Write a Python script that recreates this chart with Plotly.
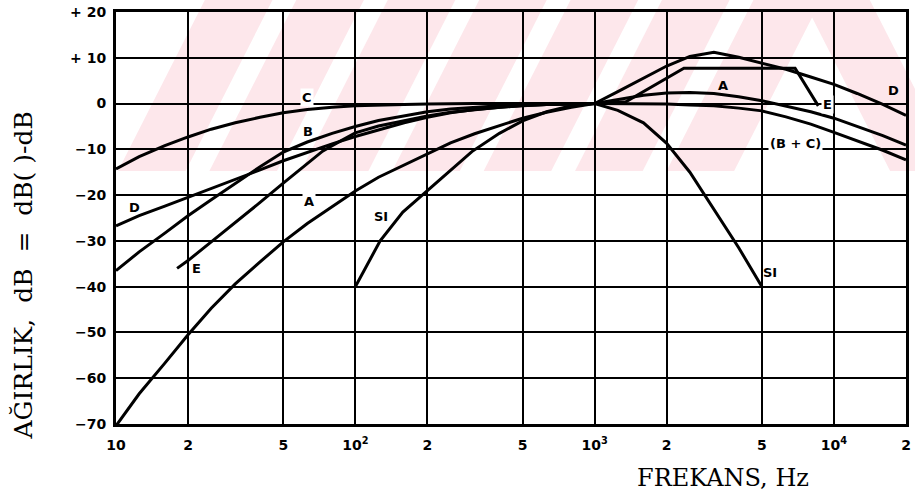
import math
import plotly.graph_objects as go

# ---------------- data ----------------
freq_A = [10, 12.5, 16, 20, 25, 31.5, 40, 50, 63, 80, 100, 125, 160, 200, 250, 315, 400, 500, 630, 800,
          1000, 1250, 1600, 2000, 2500, 3150, 4000, 5000, 6300, 8000, 10000, 12500, 16000, 20000]
weight_A = [-70.4, -63.4, -56.7, -50.5, -44.7, -39.4, -34.6, -30.2, -26.2, -22.5, -19.1, -16.1, -13.4, -10.9,
            -8.6, -6.6, -4.8, -3.2, -1.9, -0.8, 0, 0.8, 1.8, 2.3, 2.4, 2.2, 1.5, 0.6, -0.5, -1.8, -3.2, -5.0,
            -7.0, -9.1]

freq_B = [10, 12.5, 16, 20, 25, 31.5, 40, 50, 63, 80, 100, 125, 160, 200, 250, 315, 400, 500, 630, 800, 1000]
weight_B = [-36.5, -32.4, -28.3, -24.5, -21.0, -17.4, -13.8, -10.6, -8.4, -6.5, -5.0, -3.7, -2.7, -1.8, -1.2,
            -0.8, -0.5, -0.3, -0.2, -0.1, 0]

freq_C = [10, 12.5, 16, 20, 25, 31.5, 40, 50, 63, 80, 100, 125, 160, 200, 250, 315, 400, 500, 630, 800, 1000]
weight_C = [-14.3, -11.6, -9.2, -7.3, -5.6, -4.2, -3.0, -2.0, -1.3, -0.8, -0.5, -0.3, -0.2, -0.1, 0, 0, 0, 0,
            0, 0, 0]

freq_BC = [1000, 1250, 1600, 2000, 2500, 3150, 4000, 5000, 6300, 8000, 10000, 12500, 16000, 20000]
weight_BC = [0, 0, -0.1, -0.1, -0.3, -0.5, -1.0, -1.6, -2.9, -4.5, -6.3, -8.2, -10.2, -12.3]

freq_D = [10, 12.5, 16, 20, 25, 31.5, 40, 50, 63, 80, 100, 125, 160, 200, 250, 315, 400, 500, 630, 800,
          1000, 1250, 1600, 2000, 2500, 3150, 4000, 5000, 6300, 8000, 10000, 12500, 16000, 20000]
weight_D = [-26.7, -24.5, -22.4, -20.5, -18.6, -16.6, -14.5, -12.5, -10.6, -8.8, -7.2, -5.7, -4.2, -3.0, -2.0,
            -1.3, -0.8, -0.4, -0.2, -0.1, 0, 2.6, 5.6, 8.2, 10.3, 11.2, 10.1, 8.9, 7.5, 5.8, 4.2, 2.2, -0.2, -2.6]

freq_E = [18, 20, 25, 31.5, 40, 50, 63, 73, 80, 100, 125, 160, 200, 250, 315, 400, 500, 630, 800, 1000,
          1350, 2360, 6880, 8600]
weight_E = [-36.0, -34.3, -30.2, -26.0, -21.6, -17.4, -13.2, -10.4, -9.2, -6.4, -4.9, -3.7, -2.7, -1.9, -1.3,
            -0.8, -0.5, -0.2, -0.1, 0, 0.4, 7.7, 7.7, -0.5]

freq_SI = [100, 127, 158, 200, 250, 307, 400, 500, 630, 800, 1000, 1250, 1600, 2000, 2500, 3150, 4000, 5000]
weight_SI = [-40, -30, -23.7, -19, -14.5, -10.5, -6.5, -3.8, -1.8, -0.5, 0, -1.5, -4.2, -8.7, -15, -23,
             -31.5, -40]

x_tickvals = [10, 20, 50, 100, 200, 500, 1000, 2000, 5000, 10000, 20000]
x_ticktext = ["10", "2", "5", "10<sup>2</sup>", "2", "5", "10<sup>3</sup>", "2", "5", "10<sup>4</sup>", "2"]
y_tickvals = [20, 10, 0, -10, -20, -30, -40, -50, -60, -70]
y_ticktext = ["+ 20", "+ 10", "0", "\u221210", "\u221220", "\u221230", "\u221240", "\u221250", "\u221260",
              "\u221270"]

# curve labels: (text, frequency, dB, white background)
labels = [
    ("C", 62.7, 1.3, True),
    ("B", 63.4, -6.0, False),
    ("D", 12.0, -22.8, False),
    ("E", 21.7, -36.1, False),
    ("A", 63.9, -21.5, True),
    ("SI", 128.5, -24.6, False),
    ("SI", 5420, -36.8, False),
    ("A", 3436, 4.0, False),
    ("E", 9377, -0.3, True),
    ("D", 17740, 2.9, False),
    ("(B + C)", 6918, -8.8, True),
]

# ---------------- figure ----------------
W, H = 915, 495
ML, MR, MT, MB = 116, 4, 12, 71
PW, PH = W - ML - MR, H - MT - MB


def px2paper(px, py):
    return (px - ML) / PW, (H - MB - py) / PH


fig = go.Figure()
series = [(freq_C, weight_C), (freq_B, weight_B), (freq_D, weight_D), (freq_E, weight_E),
          (freq_A, weight_A), (freq_SI, weight_SI), (freq_BC, weight_BC)]
for fx, wy in series:
    fig.add_trace(go.Scatter(x=fx, y=wy, mode="lines", line=dict(color="black", width=3),
                             hoverinfo="skip", showlegend=False))

# faint pink watermark stripes (background decoration)
pink = "#fde7eb"
shapes = []
y_bot, y_top = 171, -5
shift = 90
for x0 in range(118, 760, 92):
    pts = [(x0, y_bot), (x0 + 68, y_bot), (x0 + 68 + shift, y_top), (x0 + shift, y_top)]
    pp = [px2paper(a, b) for a, b in pts]
    path = "M " + " L ".join(f"{a:.4f},{b:.4f}" for a, b in pp) + " Z"
    shapes.append(dict(type="path", path=path, xref="paper", yref="paper", fillcolor=pink,
                       line=dict(width=0), layer="below"))
# backslash band at the right
pts = [(805, y_top), (872, y_top), (962, y_bot), (895, y_bot)]
pp = [px2paper(a, b) for a, b in pts]
shapes.append(dict(type="path", path="M " + " L ".join(f"{a:.4f},{b:.4f}" for a, b in pp) + " Z",
                   xref="paper", yref="paper", fillcolor=pink, line=dict(width=0), layer="below"))

annotations = []
for text, f, db, bg in labels:
    annotations.append(dict(x=math.log10(f), y=db, xref="x", yref="y", text=text,
                            xanchor="center", yanchor="middle", showarrow=False,
                            font=dict(family="DejaVu Sans", size=13, color="black", weight="bold"),
                            bgcolor="white" if bg else "rgba(0,0,0,0)", borderpad=1))

ax, ay = px2paper(22, 276)
annotations.append(dict(x=ax, y=ay, xref="paper", yref="paper", text="AĞIRLIK,  dB  =  dB( )-dB",
                        textangle=-90, showarrow=False, xanchor="center", yanchor="middle",
                        font=dict(family="DejaVu Serif", size=25, color="black")))
bx, by = px2paper(727, 478)
annotations.append(dict(x=bx, y=by, xref="paper", yref="paper", text="FREKANS, Hz", showarrow=False,
                        xanchor="center", yanchor="middle",
                        font=dict(family="DejaVu Serif", size=24, color="black")))

fig.update_layout(
    width=W, height=H,
    margin=dict(l=ML, r=MR, t=MT, b=MB),
    paper_bgcolor="white", plot_bgcolor="rgba(0,0,0,0)",
    shapes=shapes, annotations=annotations,
    xaxis=dict(type="log", range=[1, 4.30103], tickvals=x_tickvals, ticktext=x_ticktext,
               showgrid=True, gridcolor="black", gridwidth=1.6, showline=True, linecolor="black",
               linewidth=3, mirror=True, ticks="", ticklabelstandoff=6, zeroline=False,
               tickfont=dict(family="DejaVu Sans", size=14, color="black", weight="bold")),
    yaxis=dict(range=[-70, 20], tickvals=y_tickvals, ticktext=y_ticktext,
               showgrid=True, gridcolor="black", gridwidth=1.6, showline=True, linecolor="black",
               linewidth=3, mirror=True, ticks="", ticklabelstandoff=4, zeroline=False,
               tickfont=dict(family="DejaVu Sans", size=14, color="black", weight="bold")),
)

fig.write_html("out.html")
